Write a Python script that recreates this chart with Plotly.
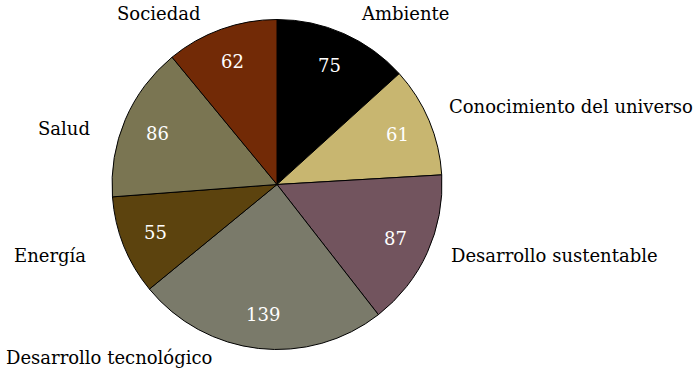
import math
import plotly.graph_objects as go

categories = ["Ambiente", "Conocimiento del universo", "Desarrollo sustentable",
              "Desarrollo tecnológico", "Energía", "Salud", "Sociedad"]
values = [75, 61, 87, 139, 55, 86, 62]
colors = ["#000000", "#c8b670", "#72545e", "#7a7a6a", "#5c430e", "#7a7552", "#722a06"]

W, H = 700, 371
cx, cy, r = 277, 184.5, 165
FONT = "DejaVu Serif"

fig = go.Figure(go.Pie(
    labels=categories,
    values=values,
    sort=False,
    direction="clockwise",
    rotation=0,
    marker=dict(colors=colors, line=dict(color="#000000", width=1)),
    textinfo="none",
    showlegend=False,
    hoverinfo="label+value",
    domain=dict(x=[(cx - r) / W, (cx + r) / W], y=[1 - (cy + r) / H, 1 - (cy - r) / H]),
))

# value labels at each slice's mid-angle, derived from the data
total = sum(values)
cum = 0
for v in values:
    mid = (cum + v / 2) / total * 2 * math.pi
    cum += v
    px = cx + 0.79 * r * math.sin(mid)
    py = cy - 0.79 * r * math.cos(mid)
    fig.add_annotation(x=px / W, y=1 - py / H, xref="paper", yref="paper",
                       text=str(v), showarrow=False, xanchor="center", yanchor="middle",
                       font=dict(family=FONT, size=18, color="#ffffff"))

# outside label positions (pixel centres)
label_pos = {
    "Sociedad": (158, 14),
    "Ambiente": (405, 14),
    "Conocimiento del universo": (571, 106),
    "Desarrollo sustentable": (554, 255),
    "Desarrollo tecnológico": (109, 357),
    "Energía": (50, 255),
    "Salud": (64, 128),
}
for name, (px, py) in label_pos.items():
    fig.add_annotation(x=px / W, y=1 - py / H, xref="paper", yref="paper",
                       text=name, showarrow=False, xanchor="center", yanchor="middle",
                       font=dict(family=FONT, size=18, color="#000000"))

fig.update_layout(width=W, height=H, margin=dict(l=0, r=0, t=0, b=0),
                  paper_bgcolor="#ffffff", plot_bgcolor="#ffffff")
fig.write_html("out.html", config={"displayModeBar": False},
               post_script="document.body.style.margin='0';")
